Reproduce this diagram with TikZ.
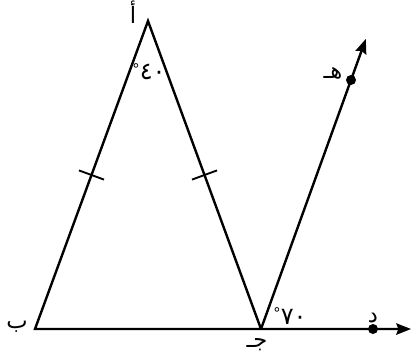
\documentclass[tikz,border=0pt]{standalone}
\usepackage{fontspec}
\newfontfamily\arabicfont[Script=Arabic]{DejaVu Sans}
\TeXXeTstate=1
\usetikzlibrary{arrows.meta,positioning,calc}

\begin{document}
\begin{tikzpicture}[x=0.75pt,y=-0.75pt,>={Stealth[length=11pt,width=8.5pt,inset=1.5pt]},
  line width=1.8pt,
  lbl/.style={font=\arabicfont\fontsize{17}{19}\selectfont,inner sep=1pt},
  ang/.style={font=\arabicfont\fontsize{18}{20}\selectfont,inner sep=1pt},
  pt/.style={circle,fill,inner sep=0pt,minimum size=7.5pt},
  tick/.style={line width=1.4pt}]
  \useasboundingbox (0,0) rectangle (412,355);

  % triangle and the two lines out of C
  \coordinate (A) at (148,21);
  \coordinate (B) at (35,329);
  \coordinate (C) at (261,329);
  \node[pt] (H) at (351,80) {};
  \node[pt] (D) at (373,329) {};
  \coordinate (Hend) at ($(C)!1.165!(H)$);
  \coordinate (Dend) at (411,329);

  \draw[->] (C) -- (A) -- (B) -- (Dend);
  \draw[->] (C) -- (Hend);

  % equal sides
  \path (A) -- coordinate[pos=0.5] (mAB) (B);
  \path (A) -- coordinate[pos=0.5] (mAC) (C);
  \draw[tick] ($(mAB)!10pt!90:(A)$) -- ($(mAB)!10pt!-90:(A)$);
  \draw[tick] ($(mAC)!10pt!90:(A)$) -- ($(mAC)!10pt!-90:(A)$);

  % letters
  \node[lbl] (lA) at (133,12) {\beginR أ\endR};
  \node[lbl] (lB) at (17,327) {\beginR ب\endR};
  \node[lbl] (lC) at (257,345) {\beginR جـ\endR};
  \node[lbl] (lD) at (373,318) {\beginR د\endR};
  \node[lbl] (lH) at (333,73) {\beginR هـ\endR};

  % angles
  \node[ang] (aA) at (149,72) {\raisebox{4pt}{\hbox{\fontsize{11}{11}\selectfont °}}\hbox{٤٠}};
  \node[ang] (aC) at (290,316) {\raisebox{4pt}{\hbox{\fontsize{11}{11}\selectfont °}}\hbox{٧٠}};
\end{tikzpicture}
\end{document}
